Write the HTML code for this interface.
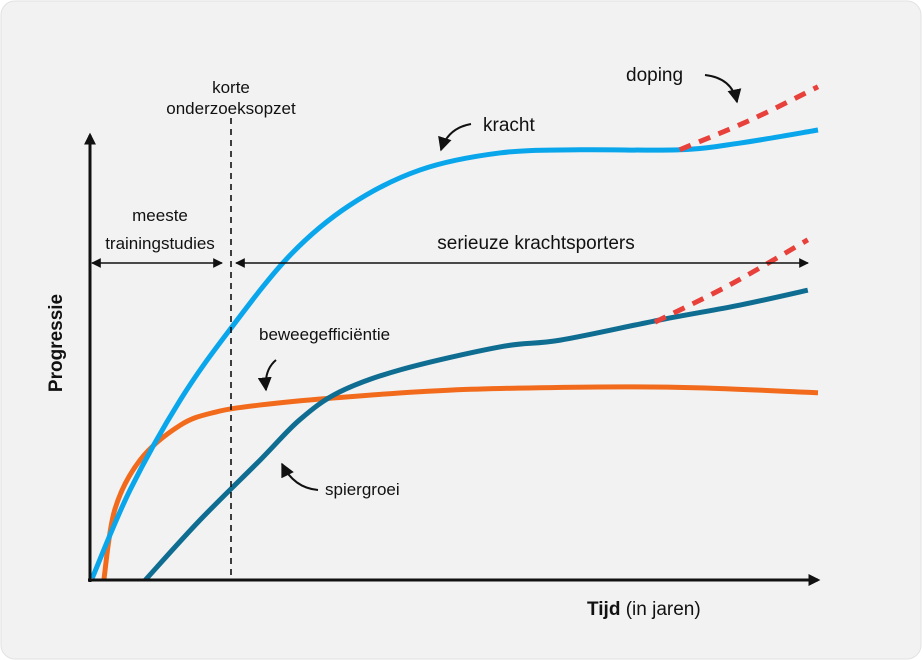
<!DOCTYPE html>
<html><head><meta charset="utf-8"><style>
html,body{margin:0;padding:0;background:#fff;}
svg{display:block;font-family:"Liberation Sans",sans-serif;}
</style></head><body>
<svg width="922" height="660" viewBox="0 0 922 660">
<defs>
<marker id="ah" viewBox="0 0 10 10" refX="9" refY="5" markerWidth="7" markerHeight="7" orient="auto-start-reverse"><path d="M0,0 L10,5 L0,10 z" fill="#111"/></marker>
<marker id="ah2" viewBox="0 0 10 10" refX="8" refY="5" markerWidth="4" markerHeight="4" orient="auto-start-reverse"><path d="M0,0 L10,5 L0,10 z" fill="#111"/></marker>
</defs>
<rect x="1" y="1" width="920" height="658" rx="14" fill="#f2f2f2" stroke="#e2e2e2"/>
<g id="marks"></g>
<line x1="231" y1="118" x2="231" y2="578" stroke="#111" stroke-width="1.6" stroke-dasharray="6,5"/>
<line x1="92" y1="263" x2="222" y2="263" stroke="#111" stroke-width="1.4" marker-start="url(#ah)" marker-end="url(#ah)"/>
<line x1="236" y1="263" x2="808" y2="263" stroke="#111" stroke-width="1.4" marker-start="url(#ah)" marker-end="url(#ah)"/>
<line x1="90" y1="582" x2="90" y2="135" stroke="#111" stroke-width="3" marker-end="url(#ah2)"/>
<line x1="88" y1="580" x2="818" y2="580" stroke="#111" stroke-width="3" marker-end="url(#ah2)"/>
<g fill="none" stroke="#111" stroke-width="2">
<path d="M471,124 Q448,128 441,150" marker-end="url(#ah)"/>
<path d="M705,75 Q732,78 737,102" marker-end="url(#ah)"/>
<path d="M276,360 Q264,370 266,390" marker-end="url(#ah)"/>
<path d="M318,490 Q294,488 282,464" marker-end="url(#ah)"/>
</g>
<g font-size="17" fill="#111">
<text x="231" y="93" text-anchor="middle">korte</text>
<text x="231" y="114" text-anchor="middle">onderzoeksopzet</text>
<text x="160" y="221" text-anchor="middle">meeste</text>
<text x="160" y="249" text-anchor="middle">trainingstudies</text>
<text x="536" y="249" text-anchor="middle" font-size="19">serieuze krachtsporters</text>
<text x="483" y="131" font-size="19">kracht</text>
<text x="626" y="81" font-size="19">doping</text>
<text x="259" y="340">beweegefficiëntie</text>
<text x="325" y="495">spiergroei</text>
<text x="587" y="615" font-size="19"><tspan font-weight="bold">Tijd</tspan> (in jaren)</text>
<text x="0" y="0" font-size="19" font-weight="bold" transform="translate(62,343) rotate(-90)" text-anchor="middle">Progressie</text>
</g>
</svg>
<script>
const krachtT=[0.3,5.5,12.4,19.2,27.5,35.7,45.3,56.3,67.3,81,89.3,100];
const krachtV=[0.4,20,40,55.6,72.2,83.3,91.1,94.9,95.6,95.6,97.1,100];
const doping1T=[81,90.7,100];
const doping1V=[95.6,102.2,109.6];
const beweegT=[1.9,3.4,6.9,12.4,17.2,23.4,33,49.5,70,83.8,100];
const beweegV=[0,15.6,26.7,34.4,37.3,38.9,40.4,42.2,42.9,42.7,41.6];
const spierT=[7.6,15.1,23.4,28.8,34.3,42.6,56.3,64.6,78.3,89.3,98.6];
const spierV=[0,13.3,26.7,35.6,41.8,46.7,51.8,53.3,57.8,61.1,64.4];
const doping2T=[77.6,87.9,98.6];
const doping2V=[57.3,65.6,75.6];
function xs(t){return 90+t*7.28;}
function ys(v){return 580-v*4.5;}
function pathFor(T,V){
  const p=T.map((t,i)=>[xs(t),ys(V[i])]);
  let d='M'+p[0][0]+','+p[0][1];
  for(let i=0;i<p.length-1;i++){
    const p0=p[i-1]||p[i],p1=p[i],p2=p[i+1],p3=p[i+2]||p2;
    const c1=[p1[0]+(p2[0]-p0[0])/6,p1[1]+(p2[1]-p0[1])/6];
    const c2=[p2[0]-(p3[0]-p1[0])/6,p2[1]-(p3[1]-p1[1])/6];
    d+=' C'+c1+' '+c2+' '+p2;
  }
  return d;
}
const g=document.getElementById('marks');
function add(T,V,color,name,dash){
  const el=document.createElementNS('http://www.w3.org/2000/svg','path');
  el.setAttribute('d',pathFor(T,V));
  el.setAttribute('fill','none');
  el.setAttribute('stroke',color);
  el.setAttribute('stroke-width','5');
  if(dash)el.setAttribute('stroke-dasharray',dash);
  
  
  g.appendChild(el);
}
add(beweegT,beweegV,'#f26b1d','beweegefficientie-line');
add(spierT,spierV,'#0f6d92','spiergroei-line');
add(krachtT,krachtV,'#0aa6ec','kracht-line');
add(doping1T,doping1V,'#e8403a','kracht-doping-line','12,9');
add(doping2T,doping2V,'#e8403a','spiergroei-doping-line','12,9');
</script>
</body></html>
